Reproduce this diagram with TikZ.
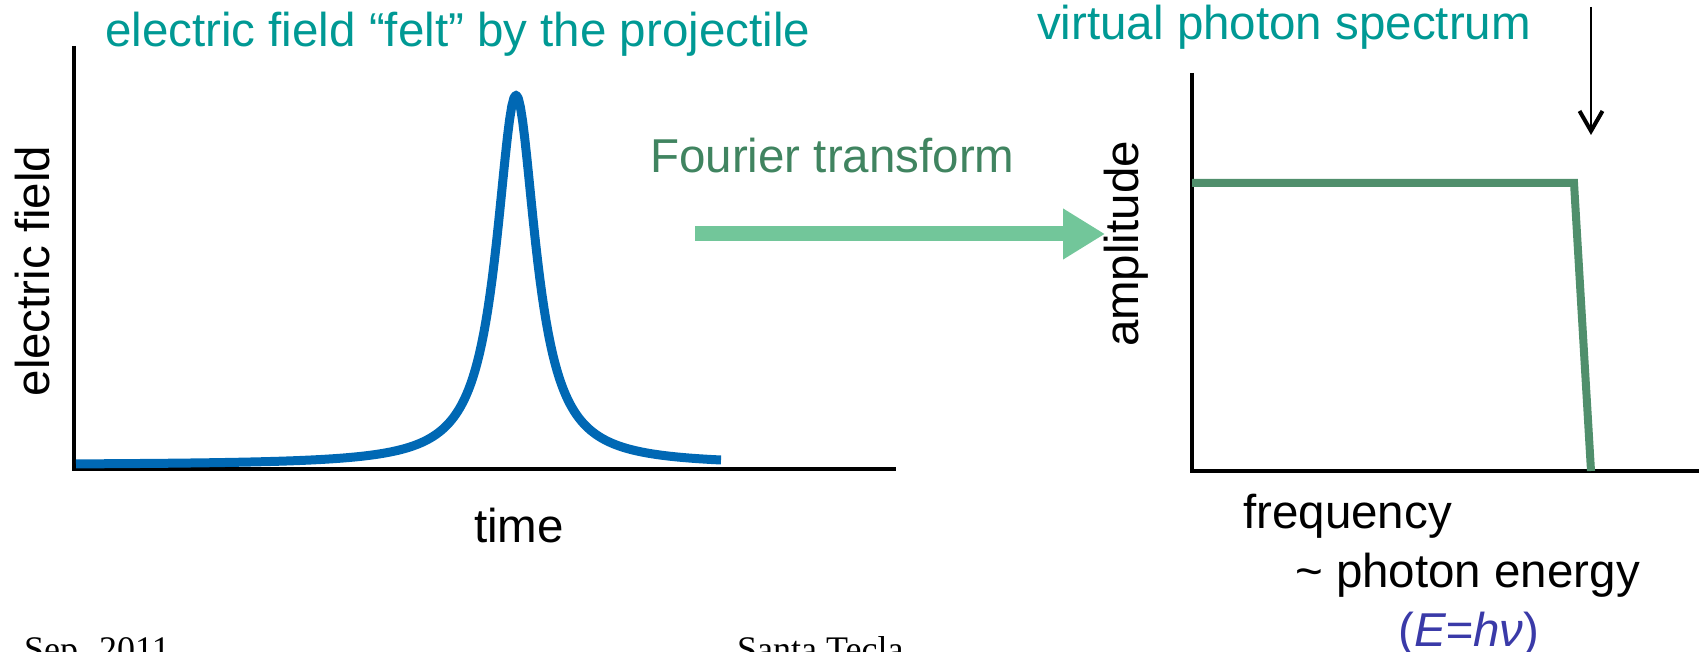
\documentclass[tikz,border=0pt]{standalone}
\usepackage{fontspec}
\setmainfont{Liberation Sans}
\newfontfamily\footfont{Liberation Serif}
\usepackage{tikz}
\usetikzlibrary{arrows.meta}
\definecolor{headTeal}{RGB}{0,153,148}
\definecolor{fourierGreen}{RGB}{64,132,96}
\definecolor{arrowGreen}{RGB}{114,198,154}
\definecolor{spectrumGreen}{RGB}{80,143,108}
\definecolor{fieldBlue}{RGB}{0,104,180}
\definecolor{energyBlue}{RGB}{58,58,168}
\tikzstyle{bigtext}=[inner sep=0pt, font=\fontsize{47.5}{57}\selectfont]
\tikzstyle{headline}=[bigtext, text=headTeal, anchor=base west]
\tikzstyle{axis}=[line width=4.5pt, black]
\tikzstyle{footer}=[inner sep=0pt, anchor=base west, font=\footfont\fontsize{36}{43}\selectfont]
\tikzstyle{transform}=[line width=15pt, arrowGreen, -{Triangle[length=42pt, width=48pt]}]
\tikzstyle{pointer}=[line width=2pt, -{Straight Barb[length=20pt, width=23pt, line width=4pt]}]

\begin{document}
\begin{tikzpicture}[x=1pt, y=-1pt]
      \useasboundingbox (0,0) rectangle (1699,652);
      \clip (0,0) rectangle (1699,652);

      % left plot
      \coordinate (leftTop) at (74,46);
      \coordinate (leftOrigin) at (74,469);
      \coordinate (leftEnd) at (896,469);
      \node[headline] (fieldTitle) at (105,47) {electric field “felt” by the projectile};
      \node[bigtext, rotate=90, anchor=base] (fieldAxis) at (49,271) {electric field};
      \node[bigtext, anchor=base west] (timeAxis) at (474,542) {time};

      \draw[axis] (leftTop) -- (leftOrigin) -- (leftEnd);
      \draw[line width=9pt, fieldBlue, line join=round]
        plot[domain=76:721, samples=300] (\x, {465 - 370/(1+((\x-516)/24)^2)});

      % Fourier transform arrow
      \node[bigtext, text=fourierGreen, anchor=base west] (fourierText) at (650,173) {Fourier transform};
      \coordinate (fourierStart) at (695,234);
      \coordinate (fourierEnd) at (1105,234);
      \draw[transform] (fourierStart) -- (fourierEnd);

      % right plot
      \coordinate (rightTop) at (1192,73);
      \coordinate (rightOrigin) at (1192,471);
      \coordinate (rightEnd) at (1710,471);
      \coordinate (specStart) at (1192,183);
      \coordinate (specKnee) at (1574,183);
      \coordinate (specFoot) at (1591,471);
      \coordinate (pointerTop) at (1591,7);
      \coordinate (pointerTip) at (1591,135);
      \node[headline] (photonTitle) at (1037,40) {virtual photon spectrum};
      \node[bigtext, rotate=90, anchor=base] (ampAxis) at (1138,244) {amplitude};
      \node[bigtext, anchor=base west] (freqAxis) at (1243,528) {frequency};
      \node[bigtext, anchor=base west] (energyText) at (1295,587) {\textasciitilde{} photon energy};
      \node[bigtext, text=energyBlue, anchor=base west] (energyEq) at (1398,646) {(\textit{E=h}\textit{ν})};

      \draw[axis] (rightTop) -- (rightOrigin) -- (rightEnd);
      \draw[line width=8pt, spectrumGreen] (specStart) -- (specKnee) -- (specFoot);
      \draw[pointer] (pointerTop) -- (pointerTip);

      % footer
      \node[footer] (footDate) at (24,661) {Sep. 2011};
      \node[footer] (footPlace) at (737,661) {Santa Tecla};

    \end{tikzpicture}
\end{document}
